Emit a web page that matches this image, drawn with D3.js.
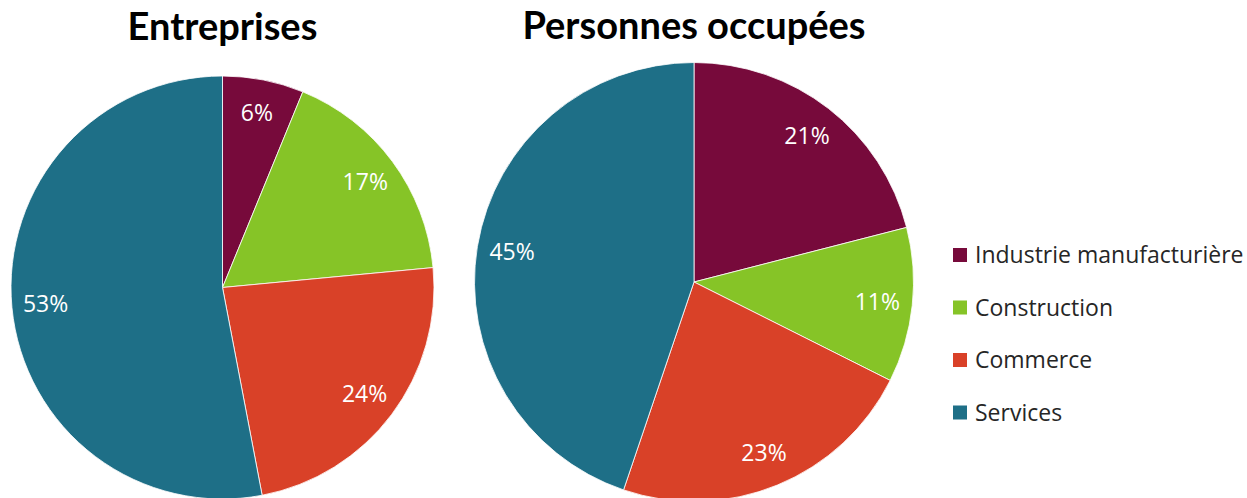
<!DOCTYPE html>
<html>
<head>
<meta charset="utf-8">
<script src="https://cdn.jsdelivr.net/npm/d3@7"></script>
<style>
  body { margin: 0; background: #fff; }
  text { font-family: "Open Sans", "Noto Sans", sans-serif; }
  .title { font-family: "Lato", "Open Sans", sans-serif; font-weight: bold; }
</style>
</head>
<body>
<div class="canvas"></div>
<script>
const categories = ["Industrie manufacturière", "Construction", "Commerce", "Services"];
const colors = ["#770a3b", "#86c427", "#d94128", "#1e6f87"];
const titles = ["Entreprises", "Personnes occupées"];
const entreprises = [6.2, 17.3, 23.5, 53.0];
const personnes = [21.0, 11.4, 22.8, 44.8];

const WIDTH = 1247,
  HEIGHT = 498,
  PIES = [
    { cx: 222.5, cy: 287.5, r: 211.5, titleY: 40 },
    { cx: 694, cy: 282, r: 219.5, titleY: 38.5 },
  ],
  LABEL_RATIO = 0.84,
  LEGEND = {
    x: 953,
    y: 255,
    step: 52.5,
    size: 14,
    gap: 8,
  };

let svg, color, pie;

document.addEventListener("DOMContentLoaded", function () {
  setSVG();
  setScales();
  drawPie(entreprises, 0);
  drawPie(personnes, 1);
  drawLegend();
});

function setSVG() {
  svg = d3
    .select(".canvas")
    .append("svg")
    .attr("width", WIDTH)
    .attr("height", HEIGHT)
    .style("display", "block");
}

function setScales() {
  color = d3.scaleOrdinal().domain(categories).range(colors);
  pie = d3.pie().sort(null).value((d) => d.value);
}

function drawPie(values, index) {
  const layout = PIES[index];
  const data = categories.map((name, i) => ({ name, value: values[i] }));
  const arc = d3.arc().innerRadius(0).outerRadius(layout.r);
  const labelArc = d3
    .arc()
    .innerRadius(layout.r * LABEL_RATIO)
    .outerRadius(layout.r * LABEL_RATIO);

  svg
    .append("text")
    .attr("class", "title")
    .attr("x", layout.cx)
    .attr("y", layout.titleY)
    .attr("text-anchor", "middle")
    .style("font-size", "38px")
    .attr("fill", "#000")
    .text(titles[index]);

  const g = svg
    .append("g")
    .attr("transform", `translate(${layout.cx}, ${layout.cy})`);

  const slices = pie(data);

  g.selectAll("path")
    .data(slices)
    .enter()
    .append("path")
    .attr("d", arc)
    .attr("fill", (d) => color(d.data.name))
    .attr("stroke", "#fff")
    .attr("stroke-width", 0.8);

  g.selectAll("text")
    .data(slices)
    .enter()
    .append("text")
    .attr("transform", (d) => `translate(${labelArc.centroid(d)})`)
    .attr("text-anchor", "middle")
    .attr("dy", "0.35em")
    .attr("fill", "#fff")
    .style("font-size", "23px")
    .text((d) => `${Math.round(d.data.value)}%`);
}

function drawLegend() {
  const item = svg
    .append("g")
    .selectAll("g")
    .data(categories)
    .enter()
    .append("g")
    .attr("transform", (d, i) => `translate(${LEGEND.x}, ${LEGEND.y + i * LEGEND.step})`);

  item
    .append("rect")
    .attr("y", -LEGEND.size / 2)
    .attr("width", LEGEND.size)
    .attr("height", LEGEND.size)
    .attr("fill", (d) => color(d));

  item
    .append("text")
    .attr("x", LEGEND.size + LEGEND.gap)
    .attr("dy", "0.35em")
    .attr("fill", "#262626")
    .style("font-size", "23px")
    .text((d) => d);
}
</script>
</body>
</html>
